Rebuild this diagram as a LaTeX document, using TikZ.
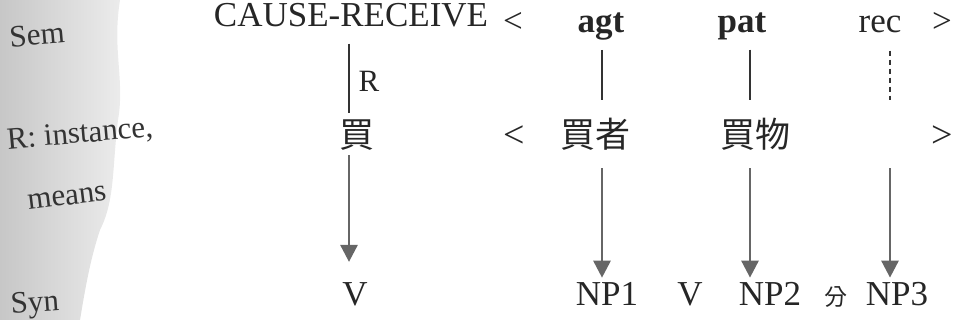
\documentclass[tikz,border=0pt]{standalone}
\usepackage{fontspec}
\setmainfont{Liberation Serif}
\newfontfamily\cjk{Noto Sans CJK TC}
\usetikzlibrary{arrows.meta,calc}
\tikzset{
  lbl/.style={inner sep=0pt, anchor=center, text=black!80, font=\fontsize{31}{34}\selectfont},
  txt/.style={inner sep=0pt, anchor=base, text=black!85, font=\fontsize{35}{38}\selectfont},
  cjktxt/.style={inner sep=0pt, anchor=base, text=black!85, font=\cjk\fontsize{35}{38}\selectfont},
  brk/.style={inner sep=0pt, anchor=base, text=black!85, font=\fontsize{38}{40}\selectfont},
  link/.style={draw=black!80, line width=1.6pt},
  dlink/.style={draw=black!80, line width=1.6pt, dash pattern=on 5pt off 4pt},
  arr/.style={draw=black!60, line width=2.8pt, -{Triangle[width=17pt,length=17pt]}},
}
\begin{document}
\begin{tikzpicture}[x=1pt,y=-1pt]
\useasboundingbox (0,0) rectangle (955,320);
% scanned grey margin
\shade[left color=black!22, right color=black!7, draw=none]
  (0,0) -- (120,0) .. controls (112,50) and (125,80) .. (118,120)
  .. controls (112,170) and (115,200) .. (100,230)
  .. controls (90,260) and (85,290) .. (80,320) -- (0,320) -- cycle;

% left labels
\node[lbl, rotate=5] (lsem) at (37,35) {Sem};
\node[lbl, rotate=5] (lri) at (80,135) {R: instance,};
\node[lbl, rotate=7] (lmeans) at (67,198) {means};
\node[lbl, rotate=4] (lsyn) at (35,305) {Syn};

% column positions
\coordinate (k1) at (349,0);
\coordinate (k2) at (602,0);
\coordinate (k3) at (750,0);
\coordinate (k4) at (890,0);

% row 1 (Sem)
\node[txt] (cause) at (351,27) {CAUSE-RECEIVE};
\node[txt] (lt1) at (513,33) {<};
\node[txt, font=\bfseries\fontsize{35}{38}\selectfont] (agt) at (601,33) {agt};
\node[txt, font=\bfseries\fontsize{35}{38}\selectfont] (pat) at (742,33) {pat};
\node[txt] (rec) at (880,33) {rec};
\node[txt] (gt1) at (942,33) {>};

% R label
\node[txt, font=\fontsize{31}{34}\selectfont] (rlab) at (369,92) {R};

% row 2
\node[cjktxt] (mai) at (357,148) {買};
\node[brk] (lt2) at (514,148) {<};
\node[cjktxt] (maizhe) at (595,148) {買者};
\node[cjktxt] (maiwu) at (755,148) {買物};
\node[brk] (gt2) at (942,148) {>};

% row 4 (Syn)
\node[txt] (v1) at (355,305) {V};
\node[txt] (np1) at (607,305) {NP1};
\node[txt] (v2) at (690,305) {V};
\node[txt] (np2) at (770,305) {NP2};
\node[cjktxt, font=\cjk\fontsize{23}{26}\selectfont] (fen) at (836,305) {分};
\node[txt] (np3) at (897,305) {NP3};

% links Sem -> R
\draw[link, shorten <=16pt, shorten >=7pt] (k1 |- cause.south) -- (k1 |- mai.north);
\draw[link, shorten <=9pt, shorten >=18pt] (k2 |- agt.south) -- (k2 |- maizhe.north);
\draw[link, shorten <=9pt, shorten >=18pt] (k3 |- pat.south) -- (k3 |- maiwu.north);
\draw[dlink, shorten <=17pt, shorten >=18pt] (k4 |- rec.south) -- (k4 |- maiwu.north);

% arrows R -> Syn
\draw[arr, shorten <=4pt, shorten >=20pt] (k1 |- mai.south) -- (k1 |- v1.north);
\draw[arr, shorten <=17pt, shorten >=4pt] (k2 |- maizhe.south) -- (k2 |- np1.north);
\draw[arr, shorten <=17pt, shorten >=4pt] (k3 |- maiwu.south) -- (k3 |- np2.north);
\draw[arr, shorten <=17pt, shorten >=4pt] (k4 |- maiwu.south) -- (k4 |- np3.north);
\end{tikzpicture}
\end{document}
